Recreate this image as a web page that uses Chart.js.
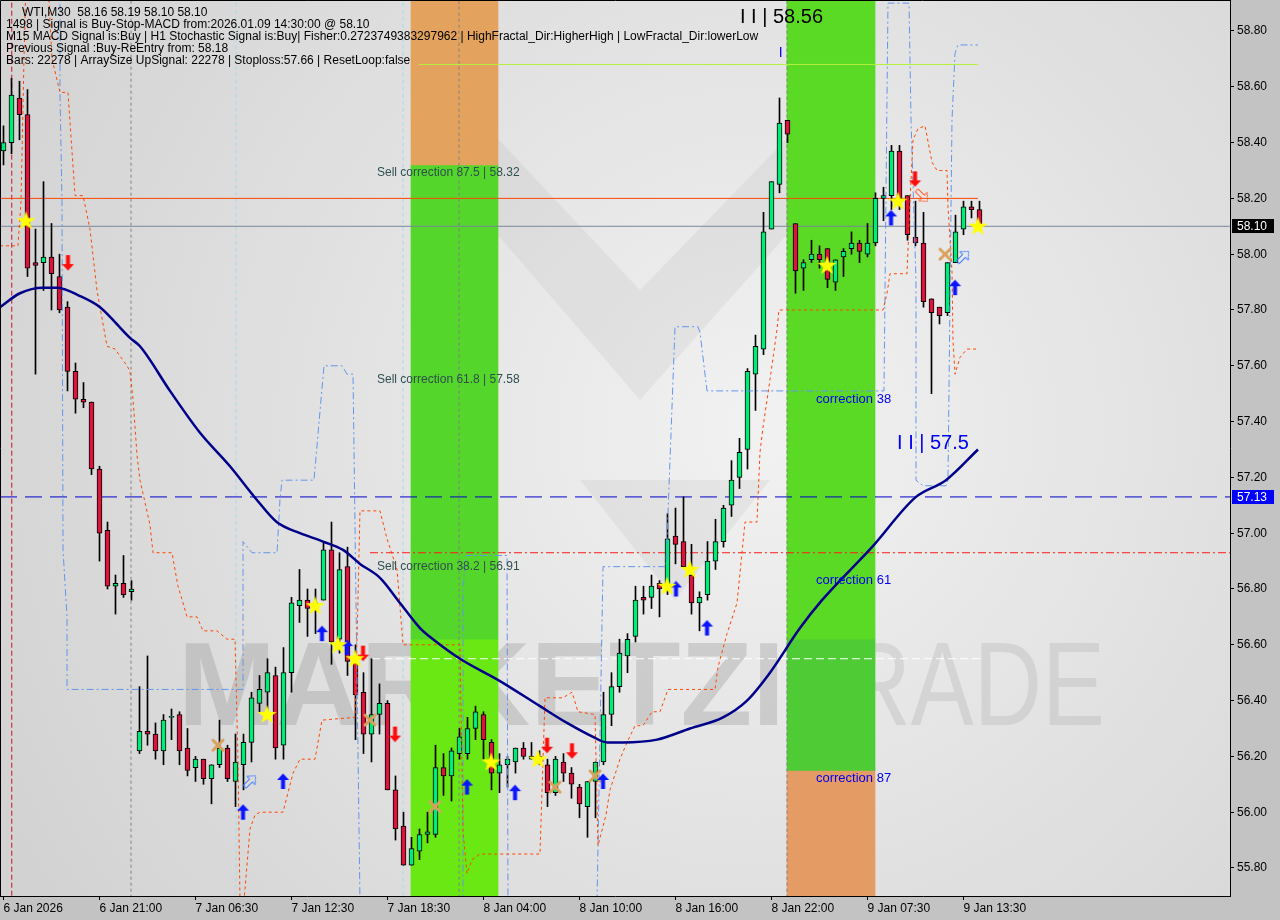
<!DOCTYPE html>
<html>
<head>
<meta charset="utf-8">
<script src="https://cdn.jsdelivr.net/npm/chart.js@4.4.1/dist/chart.umd.min.js"></script>
<style>
  html, body { margin: 0; padding: 0; background: #c3c3c3; }
  #wrap { width: 1280px; height: 920px; }
</style>
</head>
<body>
<div id="wrap"><canvas id="chart" width="1280" height="920"></canvas></div>
<script>
(function () {
    "use strict";

    // WTI M30 candles, 6 Jan 16:00 .. 9 Jan 14:30 (bar index 0..122)
    const OPEN = [58.37, 58.40, 58.56, 58.50, 57.97, 57.97, 57.99, 57.92, 57.81, 57.58, 57.48, 57.47, 57.23, 57.01, 56.81, 56.82, 56.79,
        56.22, 56.29, 56.28, 56.22, 56.34, 56.35, 56.23, 56.16, 56.19, 56.12, 56.17, 56.23, 56.11, 56.17, 56.25, 56.39, 56.43, 56.49,
        56.24, 56.50, 56.74, 56.76, 56.73, 56.76, 56.94, 56.62, 56.88, 56.54, 56.43, 56.28, 56.35, 56.39, 56.08, 55.95, 55.81, 55.86,
        55.92, 55.92, 56.16, 56.13, 56.21, 56.21, 56.30, 56.35, 56.25, 56.14, 56.17, 56.18, 56.23, 56.19, 56.20, 56.17, 56.07, 56.18,
        56.14, 56.09, 56.02, 56.11, 56.18, 56.35, 56.45, 56.56, 56.63, 56.77, 56.77, 56.82, 56.80, 56.99, 56.97, 56.85, 56.75, 56.78,
        56.90, 56.97, 57.10, 57.20, 57.30, 57.57, 57.66, 58.09, 58.25, 58.48, 58.11, 57.95, 57.98, 58.00, 58.02, 57.90, 57.99, 58.02,
        58.04, 58.00, 58.04, 58.20, 58.21, 58.37, 58.21, 58.06, 58.04, 57.84, 57.81, 57.79, 57.97, 58.09, 58.17, 58.16];
    const HIGH = [58.46, 58.63, 58.62, 58.59, 58.09, 58.26, 58.11, 58.00, 57.83, 57.61, 57.54, 57.47, 57.24, 57.04, 56.85, 56.92, 56.83,
        56.45, 56.56, 56.32, 56.35, 56.37, 56.36, 56.30, 56.20, 56.19, 56.17, 56.33, 56.24, 56.28, 56.28, 56.43, 56.49, 56.55, 56.52,
        56.59, 56.77, 56.87, 56.80, 56.80, 56.97, 57.04, 56.93, 56.95, 56.60, 56.50, 56.55, 56.46, 56.40, 56.13, 56.00, 55.91, 55.94,
        56.00, 56.24, 56.21, 56.23, 56.30, 56.34, 56.38, 56.36, 56.26, 56.21, 56.20, 56.23, 56.25, 56.25, 56.22, 56.19, 56.20, 56.21,
        56.16, 56.10, 56.11, 56.18, 56.43, 56.50, 56.62, 56.64, 56.81, 56.81, 56.85, 56.83, 57.07, 57.09, 57.13, 56.96, 56.79, 56.97,
        57.05, 57.10, 57.26, 57.34, 57.59, 57.71, 58.15, 58.26, 58.56, 58.48, 58.11, 57.98, 58.05, 58.03, 58.02, 57.98, 58.02, 58.08,
        58.05, 58.11, 58.22, 58.24, 58.39, 58.39, 58.21, 58.19, 58.15, 57.84, 57.81, 57.97, 58.14, 58.19, 58.19, 58.19];
    const LOW = [58.32, 58.36, 58.41, 57.92, 57.57, 57.87, 57.80, 57.79, 57.51, 57.43, 57.45, 57.21, 56.90, 56.80, 56.71, 56.77, 56.76,
        56.21, 56.24, 56.19, 56.17, 56.26, 56.17, 56.13, 56.11, 56.10, 56.03, 56.16, 56.11, 56.02, 56.08, 56.18, 56.36, 56.36, 56.19,
        56.19, 56.43, 56.68, 56.63, 56.64, 56.76, 56.53, 56.57, 56.49, 56.26, 56.21, 56.18, 56.28, 56.08, 55.90, 55.81, 55.81, 55.83,
        55.89, 55.91, 56.06, 56.04, 56.19, 56.19, 56.26, 56.19, 56.08, 56.07, 56.09, 56.14, 56.19, 56.19, 56.17, 56.02, 56.06, 56.11,
        56.05, 55.98, 55.91, 55.98, 56.17, 56.31, 56.43, 56.50, 56.61, 56.71, 56.73, 56.70, 56.78, 56.89, 56.88, 56.71, 56.65, 56.76,
        56.87, 56.95, 57.06, 57.16, 57.23, 57.44, 57.64, 58.09, 58.22, 58.40, 57.86, 57.87, 57.97, 57.95, 57.88, 57.87, 57.92, 58.00,
        57.97, 57.99, 58.03, 58.12, 58.16, 58.16, 58.05, 58.03, 57.81, 57.50, 57.75, 57.78, 57.97, 58.07, 58.13, 58.10];
    const CLOSE = [58.40, 58.57, 58.50, 57.95, 57.96, 57.99, 57.93, 57.80, 57.58, 57.48, 57.47, 57.23, 57.00, 56.81, 56.82, 56.78, 56.80,
        56.29, 56.28, 56.22, 56.33, 56.34, 56.22, 56.15, 56.19, 56.12, 56.17, 56.23, 56.12, 56.18, 56.25, 56.41, 56.44, 56.50, 56.23,
        56.50, 56.75, 56.76, 56.73, 56.75, 56.94, 56.61, 56.87, 56.54, 56.42, 56.28, 56.35, 56.39, 56.08, 55.94, 55.81, 55.87, 55.92,
        55.93, 56.16, 56.13, 56.22, 56.27, 56.30, 56.36, 56.26, 56.14, 56.17, 56.19, 56.23, 56.20, 56.20, 56.19, 56.07, 56.19, 56.14,
        56.10, 56.03, 56.11, 56.18, 56.35, 56.45, 56.57, 56.62, 56.76, 56.76, 56.81, 56.80, 56.98, 56.96, 56.88, 56.75, 56.77, 56.90,
        56.97, 57.09, 57.19, 57.29, 57.58, 57.67, 58.08, 58.26, 58.47, 58.43, 57.94, 57.97, 58.00, 57.98, 57.91, 57.98, 58.01, 58.04,
        58.01, 58.04, 58.20, 58.21, 58.37, 58.20, 58.07, 58.04, 57.83, 57.79, 57.78, 57.97, 58.08, 58.17, 58.16, 58.10];

    // axis ticks (bar index for time axis)
    const X_TICKS = [0, 12, 24, 36, 48, 60, 72, 84, 96, 108, 120];
    const X_LABELS = ['6 Jan 2026', '6 Jan 21:00', '7 Jan 06:30', '7 Jan 12:30', '7 Jan 18:30', '8 Jan 04:00',
        '8 Jan 10:00', '8 Jan 16:00', '8 Jan 22:00', '9 Jan 07:30', '9 Jan 13:30'];
    const Y_TICKS = [55.8, 56.0, 56.2, 56.4, 56.6, 56.8, 57.0, 57.2, 57.4, 57.6, 57.8, 58.0, 58.2, 58.4, 58.6, 58.8];

    // moving average (navy)
    const MA_X = [-0.44, 2.06, 4.94, 6.69, 9.56, 12.06, 15.81, 17.06, 20.81, 24.56, 28.31, 31.65, 34.15, 37.06, 39.94, 42.44, 44.56,
        47.06, 49.56, 52.06, 53.69, 57.06, 62.06, 67.06, 70.44, 73.69, 75.44, 77.44, 81.69, 85.81, 89.94, 92.94, 95.81, 99.56,
        102.31, 108.56, 114.06, 117.81, 121.81];
    const MA_Y = [57.81, 57.86, 57.88, 57.88, 57.85, 57.81, 57.70, 57.67, 57.51, 57.36, 57.24, 57.12, 57.04, 57.00, 56.97, 56.94, 56.89,
        56.84, 56.75, 56.66, 56.62, 56.55, 56.47, 56.38, 56.32, 56.27, 56.25, 56.25, 56.26, 56.30, 56.34, 56.40, 56.50, 56.66,
        56.76, 56.95, 57.13, 57.19, 57.30];

    // trailing stop (orange dashed)
    const STOP_X = [-0.44, 1.81, 2.19, 2.56, 2.81, 5.56, 6.06, 7.06, 8.06, 8.94, 9.94, 10.81, 11.69, 12.94, 13.94, 15.44, 15.81, 16.19,
        16.69, 17.06, 17.69, 18.31, 18.69, 21.06, 21.81, 22.44, 22.94, 24.19, 24.94, 26.69, 27.94, 28.94, 29.31, 29.56, 30.06, 30.81,
        31.44, 32.06, 34.94, 36.19, 37.06, 38.94, 39.81, 43.94, 44.31, 44.56, 47.06, 47.94, 49.19, 49.94, 57.06, 57.44, 57.94, 58.56,
        59.56, 67.06, 67.69, 69.94, 71.06, 71.81, 73.94, 74.31, 75.31, 75.81, 77.06, 77.94, 78.94, 79.94, 81.06, 82.06, 83.06, 88.94,
        89.31, 90.44, 91.69, 92.69, 94.19, 94.56, 94.94, 95.81, 96.69, 96.94, 109.94, 110.44, 110.81, 112.94, 113.31, 113.69, 114.31,
        115.19, 116.06, 116.69, 117.94, 118.06, 118.56, 118.69, 118.94, 119.56, 120.44, 121.81];
    const STOP_Y = [58.03, 58.03, 58.19, 58.70, 58.98, 58.98, 58.70, 58.58, 58.58, 58.21, 58.21, 58.09, 57.87, 57.67, 57.66, 57.60, 57.58,
        57.48, 57.28, 57.19, 57.11, 57.03, 56.93, 56.93, 56.81, 56.75, 56.70, 56.70, 56.65, 56.65, 56.62, 56.62, 56.19, 55.68, 55.68,
        55.94, 55.99, 56.00, 56.00, 56.14, 56.19, 56.19, 56.33, 56.34, 56.76, 57.08, 57.08, 56.98, 56.87, 56.60, 56.60, 55.93, 55.78,
        55.83, 55.85, 55.85, 56.41, 56.41, 56.43, 56.36, 56.35, 55.88, 55.99, 56.08, 56.19, 56.25, 56.31, 56.31, 56.36, 56.36, 56.44,
        56.44, 56.52, 56.64, 56.75, 57.04, 57.04, 57.29, 57.38, 57.55, 57.73, 57.80, 57.80, 57.86, 57.93, 57.93, 58.19, 58.41, 58.45,
        58.46, 58.33, 58.30, 58.30, 58.17, 57.94, 57.69, 57.57, 57.63, 57.66, 57.66];

    // fractal channel (cornflower dash-dot), null = break
    const FRAC_X = [7.06, 7.06, 7.31, 7.44, 7.94, 7.94, 28.94, 29.94, 29.94, 31.06, 34.19, 34.56, 34.81, 38.81, 40.06, 42.31, 42.94,
        43.69, 44.06, 44.56, 50, 57.44, 57.44, 57.81, 62.94, 63.06, 70, 74.19, 74.94, 82.81, 83.94, 86.81, 87.06, 87.94, 110.06,
        110.56, 112.94, 113.19, 113.44, 114.06, 114.06, 114.94, 117.81, 118.06, 118.56, 118.94, 119.31, 121.81];
    const FRAC_Y = [58.95, 58.58, 58.19, 56.94, 56.70, 56.44, 56.44, 56.44, 56.97, 56.93, 56.93, 57.12, 57.19, 57.19, 57.60, 57.60, 57.57,
        57.57, 56.76, 55.68, null, 55.68, 56.80, 56.92, 56.92, 55.68, null, 55.68, 56.88, 56.88, 57.74, 57.74, 57.72, 57.51, 57.51,
        58.90, 58.90, 58.90, 58.48, 57.91, 57.19, 57.17, 57.17, 57.19, 58.48, 58.72, 58.75, 58.75];

    // signal markers
    const STAR_X = [2.81, 32.94, 38.94, 41.81, 43.94, 60.94, 66.81, 82.94, 85.81, 102.94, 111.81, 121.81];
    const STAR_Y = [58.12, 56.35, 56.74, 56.60, 56.55, 56.18, 56.19, 56.81, 56.87, 57.96, 58.19, 58.10];
    const BUY_X = [29.94, 34.94, 39.81, 42.94, 57.94, 63.94, 74.94, 84.06, 87.94, 110.94, 118.94];
    const BUY_Y = [56.00, 56.11, 56.64, 56.59, 56.09, 56.07, 56.11, 56.80, 56.66, 58.13, 57.88];
    const SELL_X = [8.06, 44.94, 48.94, 67.94, 71.06, 113.94];
    const SELL_Y = [57.97, 56.57, 56.28, 56.24, 56.22, 58.27];
    const EXIT_X = [26.81, 45.81, 53.94, 68.94, 73.94, 117.69];
    const EXIT_Y = [56.24, 56.33, 56.02, 56.09, 56.13, 58.00];
    const REBUY_X = [30.81, 119.94];
    const REBUY_Y = [56.11, 57.99];
    const RESELL_X = [114.81];
    const RESELL_Y = [58.21];

    // levels
    const BID = 58.10;
    const LEVEL_57 = 57.13;
    const HIGH_LINE = 58.68;
    const SIGNAL_LINE = 58.20;
    const SELL_382 = 56.93;
    const MID_LINE = 56.55;
    const SELL_LEVELS = [58.32, 57.58, 56.91];

    // correction zones: bar index of centre, colour splits
    const ZONE_1 = 56.375;
    const ZONE_2 = 103.44;
    const ZONE_1_SPLIT = [56.62, 58.32];
    const ZONE_2_SPLIT = [56.15, 56.62];

    const VLINE_GRAY = [15.94, 56.94, 97.94];
    const VLINE_RED = [1.03];
    const VLINE_CYAN = [29.06, 49.94];

    const X_MIN = -0.4375, X_MAX = 153.3125;
    const Y_MIN = 55.6996, Y_MAX = 58.9111;
    const FONT = "'Liberation Sans', Arial, sans-serif";
    const BULL = '#00ec7a', BEAR = '#dc143c';

    const pts = (xs, ys) => xs.map((x, i) => ({x: x, y: ys[i]}));
    const vlines = xs => xs.flatMap(x => [{x: x, y: 55.5}, {x: x, y: 59.2}, {x: x, y: null}]);
    const hline = (y, x0, x1) => [{x: x0, y: y}, {x: x1, y: y}];

    function sprite(w, h, draw) {
        const c = document.createElement('canvas');
        c.width = w; c.height = h;
        draw(c.getContext('2d'));
        return c;
    }
    function arrowPath(g) {
        g.beginPath();
        g.moveTo(6.5, 0.5); g.lineTo(12.5, 7); g.lineTo(8.5, 7); g.lineTo(8.5, 16);
        g.lineTo(4.5, 16); g.lineTo(4.5, 7); g.lineTo(0.5, 7); g.closePath();
    }
    const starImg = sprite(21, 21, g => {
        g.beginPath();
        for (let i = 0; i < 10; i++) {
            const r = i % 2 ? 4 : 10;
            const a = -Math.PI / 2 + i * Math.PI / 5;
            g.lineTo(10.5 + r * Math.cos(a), 11 + r * Math.sin(a));
        }
        g.closePath();
        g.fillStyle = '#ffff00';
        g.fill();
    });
    const upImg = sprite(13, 17, g => { arrowPath(g); g.fillStyle = '#0a14ff'; g.fill(); });
    const downImg = sprite(13, 17, g => { g.translate(0, 17); g.scale(1, -1); arrowPath(g); g.fillStyle = '#ff0a0a'; g.fill(); });
    const upHollow = sprite(13, 17, g => { arrowPath(g); g.strokeStyle = '#3c78ff'; g.lineWidth = 1; g.stroke(); });
    const downHollow = sprite(13, 17, g => { g.translate(0, 17); g.scale(1, -1); arrowPath(g); g.strokeStyle = '#ff5a28'; g.lineWidth = 1; g.stroke(); });
    const crossImg = sprite(14, 14, g => {
        g.strokeStyle = '#d9a15c'; g.lineWidth = 3; g.lineCap = 'round';
        g.beginPath(); g.moveTo(2, 2); g.lineTo(12, 12); g.moveTo(12, 2); g.lineTo(2, 12); g.stroke();
    });

    const bars = OPEN.map((_, i) => i);

    const zone = (x, lo, hi, color, width) => ({
        type: 'bar', data: [{x: x, y: [lo, hi]}], backgroundColor: color, borderWidth: 0,
        barThickness: width, grouped: false, order: 20
    });
    const line = (data, color, width, dash, order) => ({
        type: 'line', data: data, borderColor: color, borderWidth: width, borderDash: dash || [],
        pointRadius: 0, tension: 0, spanGaps: false, order: order
    });
    const marks = (xs, ys, img, rot) => ({
        type: 'line', data: pts(xs, ys), showLine: false, pointStyle: img, pointRadius: 8,
        pointRotation: rot || 0, order: 1
    });

    const background = {
        id: 'background',
        beforeDraw(chart) {
            const {ctx, chartArea: a} = chart;
            ctx.save();
            ctx.fillStyle = '#c3c3c3';
            ctx.fillRect(0, 0, chart.width, chart.height);
            const g = ctx.createRadialGradient(760, 430, 20, 760, 430, 860);
            g.addColorStop(0, '#f1f1f1');
            g.addColorStop(1, '#d2d2d2');
            ctx.fillStyle = g;
            ctx.fillRect(a.left, a.top, a.right - a.left, a.bottom - a.top);

            // faint logo behind everything
            ctx.fillStyle = 'rgba(120,120,120,0.09)';
            ctx.beginPath();
            ctx.moveTo(435, 125); ctx.lineTo(485, 125); ctx.lineTo(640, 290); ctx.lineTo(800, 125); ctx.lineTo(855, 125);
            ctx.lineTo(855, 475); ctx.lineTo(800, 475); ctx.lineTo(800, 220); ctx.lineTo(640, 400); ctx.lineTo(485, 220);
            ctx.lineTo(485, 475); ctx.lineTo(435, 475); ctx.closePath();
            ctx.fill();
            ctx.beginPath();
            ctx.moveTo(580, 480); ctx.lineTo(770, 480); ctx.lineTo(675, 600); ctx.closePath();
            ctx.fill();
            ctx.restore();
        },
        beforeDatasetsDraw(chart) {
            const {ctx} = chart;
            ctx.save();
            ctx.textBaseline = 'alphabetic';
            ctx.font = 'bold 119px ' + FONT;
            let w = ctx.measureText('MARKETZI').width;
            ctx.translate(178, 725);
            ctx.scale(607 / w, 1);
            ctx.fillStyle = 'rgba(140,140,140,0.3)';
            ctx.fillText('MARKETZI', 0, 0);
            ctx.restore();
            ctx.save();
            ctx.font = '119px ' + FONT;
            w = ctx.measureText('TRADE').width;
            ctx.translate(785, 725);
            ctx.scale(320 / w, 1);
            ctx.fillStyle = 'rgba(150,150,150,0.22)';
            ctx.fillText('TRADE', 0, 0);
            ctx.restore();
        }
    };

    const labels = {
        id: 'labels',
        afterDraw(chart) {
            const {ctx, chartArea: a} = chart;
            const xs = chart.scales.x, ys = chart.scales.y;
            const text = (t, x, y, color, size) => {
                ctx.fillStyle = color;
                ctx.font = size + 'px ' + FONT;
                ctx.fillText(t, x, y);
            };
            ctx.save();
            ctx.strokeStyle = '#000';
            ctx.lineWidth = 1;
            ctx.beginPath();
            ctx.moveTo(a.left + 0.5, a.bottom); ctx.lineTo(a.left + 0.5, a.top + 0.5); ctx.lineTo(a.right, a.top + 0.5);
            ctx.stroke();

            ctx.textBaseline = 'middle';
            ctx.textAlign = 'left';
            text('WTI,M30  58.16 58.19 58.10 58.10', 22, 13, '#000', 12);
            text('1498 | Signal is Buy-Stop-MACD from:2026.01.09 14:30:00 @ 58.10', 6, 25, '#000', 12);
            text('M15 MACD Signal is:Buy | H1 Stochastic Signal is:Buy| Fisher:0.2723749383297962 | HighFractal_Dir:HigherHigh | LowFractal_Dir:lowerLow', 6, 37, '#000', 12);
            text('Previous Signal :Buy-ReEntry from: 58.18', 6, 49, '#000', 12);
            text('Bars: 22278 | ArraySize UpSignal: 22278 | Stoploss:57.66 | ResetLoop:false', 6, 61, '#000', 12);

            const sx = xs.getPixelForValue(46.69);
            ['87.5', '61.8', '38.2'].forEach((p, i) => {
                text('Sell correction ' + p + ' | ' + SELL_LEVELS[i].toFixed(2), sx, ys.getPixelForValue(SELL_LEVELS[i]) + 8, '#2f4f4f', 12);
            });
            const cx = xs.getPixelForValue(101.56);
            text('correction 38', cx, ys.getPixelForValue(57.48), '#0000ee', 13);
            text('correction 61', cx, ys.getPixelForValue(56.83), '#0000ee', 13);
            text('correction 87', cx, ys.getPixelForValue(56.12), '#0000ee', 13);
            text('I I | 58.56', xs.getPixelForValue(92.06), ys.getPixelForValue(58.85), '#000', 20);
            text('I I | 57.5', xs.getPixelForValue(111.69), ys.getPixelForValue(57.32), '#0000ee', 20);
            text('I', xs.getPixelForValue(96.9), ys.getPixelForValue(58.72), '#0000ee', 14);

            [[BID, '#000000'], [LEVEL_57, '#0000ff']].forEach(([v, bg]) => {
                const y = Math.round(ys.getPixelForValue(v));
                ctx.fillStyle = bg;
                ctx.fillRect(a.right + 2, y - 7, 42, 14);
                text(v.toFixed(2), a.right + 7, y + 0.5, '#ffffff', 12);
            });
            ctx.restore();
        }
    };

    new Chart(document.getElementById('chart'), {
        type: 'bar',
        data: {
            datasets: [
                zone(ZONE_1, ZONE_1_SPLIT[1], 59.2, '#e3a25d', 87),
                zone(ZONE_1, ZONE_1_SPLIT[0], ZONE_1_SPLIT[1], '#55d62a', 87),
                zone(ZONE_1, 55.5, ZONE_1_SPLIT[0], '#69e814', 87),
                zone(ZONE_2, ZONE_2_SPLIT[1], 59.2, '#5ada24', 88),
                zone(ZONE_2, ZONE_2_SPLIT[0], ZONE_2_SPLIT[1], '#4ecb35', 88),
                zone(ZONE_2, 55.5, ZONE_2_SPLIT[0], '#e59c64', 88),
                line(vlines(VLINE_GRAY), '#808080', 1, [3, 3], 15),
                line(vlines(VLINE_RED), '#c8102e', 1, [5, 3], 15),
                line(vlines(VLINE_CYAN), '#a6dbe6', 1, [4, 3], 15),
                line(hline(HIGH_LINE, 51.94, 121.81), '#b4f03c', 1, [], 14),
                line(hline(MID_LINE, 46.06, 122.06), '#ffffff', 1, [8, 4], 14),
                line(hline(SELL_382, 45.81, X_MAX), '#ff1a1a', 1, [8, 3, 2, 3], 14),
                line(hline(SIGNAL_LINE, X_MIN, 121.81), '#ff4500', 1, [], 14),
                line(hline(BID, X_MIN, X_MAX), '#778899', 1, [], 14),
                line(hline(LEVEL_57, X_MIN, X_MAX), '#0000cd', 1, [17, 8], 14),
                {
                    type: 'bar', data: bars.map(i => ({x: i, y: [LOW[i], HIGH[i]]})),
                    backgroundColor: '#000', borderWidth: 0, barThickness: 1, grouped: false, order: 8
                },
                {
                    type: 'bar', data: bars.map(i => ({x: i, y: [OPEN[i], CLOSE[i]]})),
                    backgroundColor: bars.map(i => CLOSE[i] >= OPEN[i] ? BULL : BEAR),
                    borderColor: '#000', borderWidth: 1, borderSkipped: false, minBarLength: 1,
                    barThickness: 5, grouped: false, order: 7
                },
                line(pts(STOP_X, STOP_Y), '#ff4500', 1, [3, 3], 5),
                line(pts(FRAC_X, FRAC_Y), '#6495ed', 1, [7, 3, 2, 3], 5),
                Object.assign(line(pts(MA_X, MA_Y), '#00008b', 2.5, [], 4), {cubicInterpolationMode: 'monotone'}),
                marks(STAR_X, STAR_Y, starImg),
                marks(BUY_X, BUY_Y, upImg),
                marks(SELL_X, SELL_Y, downImg),
                marks(EXIT_X, EXIT_Y, crossImg),
                marks(REBUY_X, REBUY_Y, upHollow, 45),
                marks(RESELL_X, RESELL_Y, downHollow, -45)
            ]
        },
        options: {
            responsive: false,
            animation: false,
            devicePixelRatio: 1,
            layout: { padding: 0, autoPadding: false },
            plugins: {
                legend: { display: false },
                tooltip: { enabled: false }
            },
            scales: {
                x: {
                    type: 'linear',
                    min: X_MIN,
                    max: X_MAX,
                    offset: false,
                    afterBuildTicks: s => { s.ticks = X_TICKS.map(v => ({value: v})); },
                    afterFit: s => { s.height = 24; s.paddingLeft = 0; s.paddingRight = 0; },
                    ticks: {
                        callback: v => X_LABELS[X_TICKS.indexOf(v)] || '',
                        align: 'start',
                        maxRotation: 0,
                        autoSkip: false,
                        padding: 1,
                        color: '#000',
                        font: { family: FONT, size: 12 }
                    },
                    grid: { drawOnChartArea: false, offset: false, tickLength: 4, color: '#000' },
                    border: { display: true, color: '#000', width: 1 }
                },
                y: {
                    position: 'right',
                    min: Y_MIN,
                    max: Y_MAX,
                    beginAtZero: false,
                    afterBuildTicks: s => { s.ticks = Y_TICKS.map(v => ({value: v})); },
                    afterFit: s => { s.width = 50; s.paddingTop = 0; s.paddingBottom = 0; },
                    ticks: {
                        callback: v => v.toFixed(2),
                        padding: 3,
                        color: '#000',
                        font: { family: FONT, size: 12 }
                    },
                    grid: { drawOnChartArea: false, tickLength: 4, color: '#000' },
                    border: { display: true, color: '#000', width: 1 }
                }
            }
        },
        plugins: [background, labels]
    });
})();
</script>
</body>
</html>
